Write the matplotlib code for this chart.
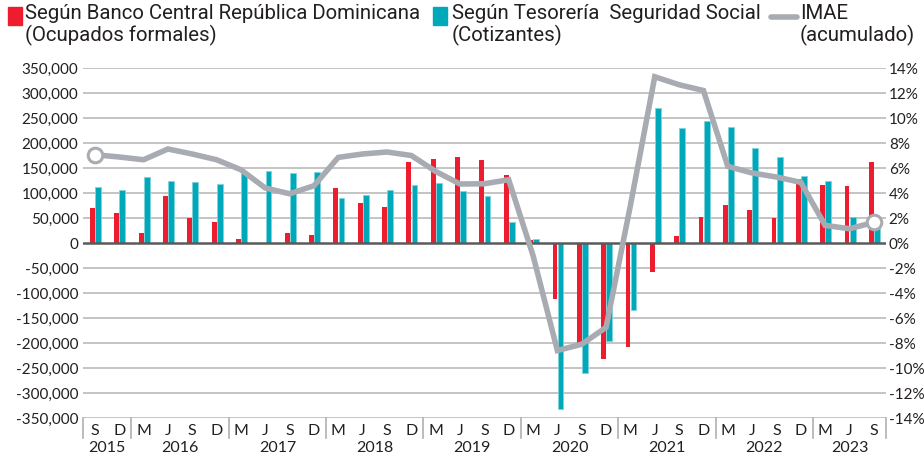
import numpy as np
import matplotlib
matplotlib.use("Agg")
import matplotlib.pyplot as plt
import matplotlib.transforms as mtransforms
from matplotlib.patches import Rectangle
from matplotlib.lines import Line2D

# quarters from Sep-2015 to Sep-2023
quarters = ["S", "D"] + ["M", "J", "S", "D"] * 7 + ["M", "J", "S"]
years = ["2015", "2016", "2017", "2018", "2019", "2020", "2021", "2022", "2023"]
year_counts = [2, 4, 4, 4, 4, 4, 4, 4, 3]

# Banco Central (ocupados formales)
bcrd = [70000, 61000, 21000, 95000, 51000, 43000, 9000, 1000, 21000, 17000,
        111000, 81000, 73000, 163000, 169000, 173000, 167000, 137000, 7000,
        -111000, -200000, -231000, -207000, -57000, 15000, 53000, 77000,
        67000, 51000, 129000, 117000, 115000, 163000]

# Tesoreria Seguridad Social (cotizantes)
tss = [113000, 107000, 133000, 125000, 123000, 119000, 140000, 145000, 140000,
       142000, 90000, 97000, 107000, 117000, 121000, 104000, 94000, 43000,
       8000, -332000, -260000, -195000, -134000, 270000, 231000, 245000,
       233000, 190000, 173000, 135000, 124000, 53000, 31000]

# IMAE acumulado (%)
imae = [7.06, 6.88, 6.66, 7.52, 7.12, 6.66, 5.86, 4.4, 3.94, 4.58, 6.85,
        7.12, 7.28, 7.0, 5.73, 4.72, 4.74, 5.06, -1.0, -8.6, -8.1, -6.75,
        3.0, 13.3, 12.66, 12.2, 6.13, 5.6, 5.28, 4.85, 1.41, 1.14, 1.65]

RED = "#ed1c2e"
TEAL = "#00a9b9"
GRAY = "#a8acb2"
TXT = "#231f20"

num_font = ["Lato", "DejaVu Sans"]
leg_font = ["Roboto", "DejaVu Sans"]

fig = plt.figure(figsize=(9.24, 4.61), dpi=100)
W, H = 924, 461
ax = fig.add_axes([82.7 / W, 1 - 418 / H, (886 - 82.7) / W, 350 / H])

x = np.arange(len(quarters))
ax.bar(x - 0.1, bcrd, width=0.2, color=RED, zorder=2)
ax.bar(x + 0.13, tss, width=0.24, color=TEAL, edgecolor="#7fd4dd",
       linewidth=0.6, zorder=2)

ax.set_xlim(-0.5, len(quarters) - 0.5)
ax.set_ylim(-350000, 350000)
yt = np.arange(-350000, 350001, 50000)
ax.set_yticks(yt)
ax.set_yticklabels([f"{v:,}" for v in yt], fontsize=11, family=num_font,
                   color=TXT)
ax.tick_params(axis="y", length=0, pad=3)
for v in yt:
    if v == 0:
        ax.axhline(0, color="#5a5a5a", lw=1.8, zorder=3)
    else:
        ax.axhline(v, color="#c4c4c4", lw=1.4, zorder=1)
for s in ax.spines.values():
    s.set_visible(False)

ax.set_xticks(x)
ax.set_xticklabels(quarters, fontsize=11.5, family=num_font, color=TXT)
ax.tick_params(axis="x", length=0, pad=4)

# year separators and labels
trans = mtransforms.blended_transform_factory(ax.transData, ax.transAxes)
bounds = np.concatenate([[0], np.cumsum(year_counts)]) - 0.5
for b in bounds:
    ax.plot([b, b], [0, -20 / 350], transform=trans, color="#b0b0b0",
            lw=1.2, clip_on=False)
start = 0
for yr, n in zip(years, year_counts):
    ax.text(start + (n - 1) / 2, -30 / 350, yr, transform=trans, ha="center",
            va="center", fontsize=11.5, family=num_font, color=TXT)
    start += n

# IMAE on right axis
ax2 = ax.twinx()
ax2.plot(x, imae, color=GRAY, lw=4, solid_joinstyle="miter", zorder=5,
         marker="o", markevery=[0, len(imae) - 1], markersize=10.5,
         markerfacecolor="white", markeredgecolor=GRAY, markeredgewidth=2.2)
ax2.set_ylim(-14, 14)
rt = np.arange(-14, 15, 2)
ax2.set_yticks(rt)
ax2.set_yticklabels([f"{v}%" for v in rt], fontsize=11, family=num_font,
                    color=TXT)
ax2.tick_params(axis="y", length=0, pad=2)
for s in ax2.spines.values():
    s.set_visible(False)

# legend drawn by hand
fs = 14.7
fig.patches.append(Rectangle((8 / W, 1 - 25 / H), 14 / W, 18 / H,
                             transform=fig.transFigure, color=RED))
fig.text(25 / W, 1 - 4 / H,
         "Según Banco Central República Dominicana\n(Ocupados formales)",
         va="top", ha="left", fontsize=fs, family=leg_font, color=TXT,
         linespacing=1.1)
fig.patches.append(Rectangle((433 / W, 1 - 25 / H), 14 / W, 18 / H,
                             transform=fig.transFigure, color=TEAL))
fig.text(452 / W, 1 - 4 / H,
         "Según Tesorería  Seguridad Social\n(Cotizantes)",
         va="top", ha="left", fontsize=fs, family=leg_font, color=TXT,
         linespacing=1.1)
fig.lines.append(Line2D([771 / W, 797 / W], [1 - 17 / H, 1 - 17 / H],
                        transform=fig.transFigure, color=GRAY, lw=4,
                        solid_capstyle="round"))
fig.text(800 / W, 1 - 4 / H, "IMAE\n(acumulado)", va="top", ha="left",
         fontsize=fs, family=leg_font, color=TXT, linespacing=1.1)

fig.savefig("out.png", dpi=100)
